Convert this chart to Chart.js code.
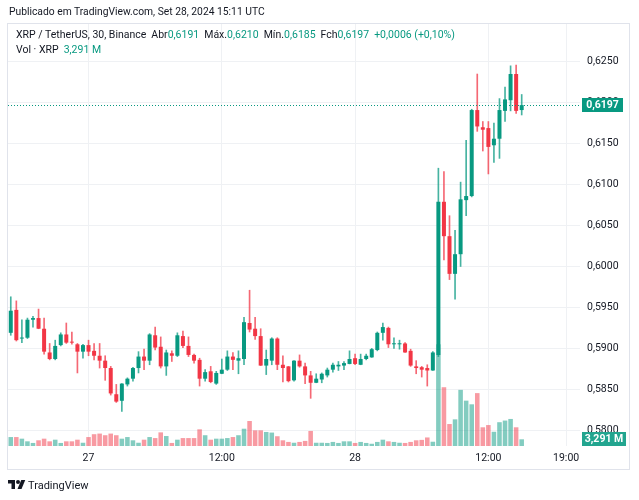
<!DOCTYPE html>
<html lang="pt">
<head>
<meta charset="UTF-8">
<title>XRP / TetherUS, 30, Binance</title>
<script src="https://cdn.jsdelivr.net/npm/chart.js"></script>
<style>
  body { margin: 0; background: #fff; font-family: Roboto, "Noto Sans", sans-serif; color: #131722; }
  #wrap { position: relative; width: 639px; height: 500px; overflow: hidden; }
  #chart { position: absolute; left: 0; top: 0; }
  .t { position: absolute; white-space: nowrap; font-size: 10.5px; line-height: 12px; }
  .up { color: #089981; }
  .lbl { margin-left: 5px; }
</style>
</head>
<body>
<div id="wrap">
  <canvas id="chart" width="639" height="500"></canvas>
  <div class="t" style="left:9px;top:6px;font-size:10.3px;">Publicado em TradingView.com, Set 28, 2024 15:11 UTC</div>
  <div class="t" style="left:16px;top:29px;">XRP / TetherUS, 30, Binance<span class="lbl">Abr</span><span class="up">0,6191</span><span class="lbl">Máx.</span><span class="up">0,6210</span><span class="lbl">Mín.</span><span class="up">0,6185</span><span class="lbl">Fch</span><span class="up">0,6197</span><span class="up lbl">+0,0006 (+0,10%)</span></div>
  <div class="t" style="left:16px;top:44px;">Vol · XRP<span class="up lbl">3,291 M</span></div>
  <svg style="position:absolute;left:8px;top:480px" width="18" height="9" viewBox="0 0 36 18">
    <path d="M14 18H7V7H0V0h14v18z" fill="#131722"/>
    <circle cx="20" cy="4" r="4" fill="#131722"/>
    <path d="M27 18h-8l7.5-18h8z" fill="#131722"/>
  </svg>
  <div class="t" style="left:28px;top:479px;font-size:11px;line-height:13px;">TradingView</div>
</div>

<script>
// candles de 30 min, 26 set 17:00 -> 28 set 15:00
var open  = [0.5919,0.5947,0.5912,0.5913,0.5935,0.5937,0.5924,0.5895,0.5887,0.5904,
             0.5917,0.5908,0.5905,0.5896,0.5904,0.5897,0.5891,0.5885,0.5876,0.5844,
             0.5836,0.5856,0.5863,0.5876,0.5890,0.5885,0.5916,0.5902,0.5878,0.5894,
             0.5891,0.5915,0.5903,0.5892,0.5886,0.5863,0.5872,0.5857,0.5869,0.5874,
             0.5890,0.5885,0.5887,0.5931,0.5924,0.5915,0.5879,0.5885,0.5912,0.5880,
             0.5878,0.5861,0.5885,0.5878,0.5867,0.5858,0.5862,0.5867,0.5874,0.5878,
             0.5879,0.5881,0.5888,0.5880,0.5887,0.5889,0.5898,0.5919,0.5925,0.5905,
             0.5905,0.5906,0.5897,0.5878,0.5877,0.5876,0.5873,0.5892,0.6079,0.6037,
             0.5991,0.6015,0.6081,0.6086,0.6191,0.6170,0.6169,0.6148,0.6156,0.6190,
             0.6203,0.6235,0.6191];
var high  = [0.5963,0.5958,0.5935,0.5937,0.5939,0.5948,0.5937,0.5906,0.5910,0.5919,
             0.5931,0.5920,0.5906,0.5905,0.5910,0.5906,0.5906,0.5891,0.5878,0.5856,
             0.5857,0.5864,0.5877,0.5896,0.5899,0.5918,0.5926,0.5914,0.5898,0.5897,
             0.5919,0.5921,0.5914,0.5893,0.5888,0.5874,0.5878,0.5872,0.5887,0.5897,
             0.5895,0.5897,0.5938,0.5971,0.5938,0.5924,0.5898,0.5913,0.5913,0.5891,
             0.5878,0.5885,0.5892,0.5882,0.5872,0.5869,0.5870,0.5876,0.5882,0.5884,
             0.5884,0.5897,0.5893,0.5893,0.5893,0.5900,0.5920,0.5931,0.5926,0.5913,
             0.5910,0.5907,0.5899,0.5885,0.5878,0.5880,0.5896,0.6120,0.6116,0.6062,
             0.6044,0.6103,0.6154,0.6192,0.6235,0.6177,0.6177,0.6175,0.6205,0.6219,
             0.6245,0.6246,0.6210];
var low   = [0.5916,0.5909,0.5907,0.5912,0.5926,0.5924,0.5893,0.5886,0.5886,0.5903,
             0.5906,0.5905,0.5870,0.5888,0.5891,0.5886,0.5876,0.5861,0.5843,0.5834,
             0.5823,0.5854,0.5860,0.5870,0.5874,0.5880,0.5898,0.5876,0.5867,0.5884,
             0.5890,0.5901,0.5890,0.5882,0.5854,0.5860,0.5858,0.5856,0.5869,0.5873,
             0.5874,0.5869,0.5880,0.5920,0.5911,0.5879,0.5868,0.5880,0.5874,0.5859,
             0.5859,0.5860,0.5877,0.5857,0.5839,0.5858,0.5858,0.5865,0.5871,0.5873,
             0.5874,0.5881,0.5880,0.5880,0.5886,0.5889,0.5897,0.5910,0.5901,0.5900,
             0.5899,0.5895,0.5878,0.5869,0.5865,0.5854,0.5873,0.5890,0.6008,0.5984,
             0.5960,0.6000,0.6062,0.6085,0.6165,0.6141,0.6113,0.6127,0.6132,0.6177,
             0.6190,0.6187,0.6185];
var close = [0.5946,0.5910,0.5913,0.5935,0.5937,0.5924,0.5896,0.5887,0.5903,0.5917,
             0.5907,0.5907,0.5896,0.5904,0.5896,0.5891,0.5885,0.5876,0.5845,0.5835,
             0.5857,0.5863,0.5876,0.5890,0.5885,0.5917,0.5901,0.5878,0.5895,0.5891,
             0.5916,0.5903,0.5892,0.5885,0.5863,0.5871,0.5859,0.5870,0.5874,0.5890,
             0.5886,0.5888,0.5932,0.5923,0.5915,0.5879,0.5887,0.5912,0.5880,0.5876,
             0.5860,0.5885,0.5878,0.5867,0.5858,0.5863,0.5869,0.5874,0.5880,0.5880,
             0.5882,0.5887,0.5881,0.5887,0.5891,0.5899,0.5919,0.5926,0.5905,0.5906,
             0.5906,0.5895,0.5879,0.5876,0.5874,0.5873,0.5895,0.6079,0.6037,0.5991,
             0.6015,0.6082,0.6086,0.6191,0.6171,0.6167,0.6146,0.6156,0.6191,0.6204,
             0.6235,0.6190,0.6197];
// volume em milhoes de XRP
var volume = [4.4,4.4,3.6,2.3,1.5,2.8,3.6,2.3,3.1,1.5,
              2.3,2.3,3.1,1.6,4.4,5.8,6.1,5.3,6.1,5.3,
              3.6,4.4,2.8,1.6,3.1,4.4,3.9,6.7,4.9,1.5,
              3.1,3.9,3.9,3.9,8.2,5.3,3.1,3.6,3.6,3.9,
              4.4,5.3,8.5,12.3,7.7,7.7,6.9,6.6,4.8,2.8,
              2.0,1.6,2.0,2.5,7.4,1.6,1.6,1.5,2.0,1.5,
              2.3,2.3,1.5,2.0,1.5,1.1,2.0,3.1,2.3,2.0,
              1.6,1.5,2.0,2.8,3.0,4.2,2.1,50,28.9,10.8,
              13.1,27.6,22.3,20.5,26.0,9.2,10.3,7.0,11.7,12.5,
              13.3,9.2,3.291];

var priceTicks = [0.5800,0.5850,0.5900,0.5950,0.6000,0.6050,0.6100,0.6150,0.6200,0.6250];
var timeTickAt = ['27 00:00','27 12:00','28 00:00','28 12:00','28 19:00'];
var timeTickText = ['27','12:00','28','12:00','19:00'];

// eixo de tempo: 26 17:00 ate 28 20:00 (espaco vazio a direita)
var categories = [];
for (var m = (26 * 24 + 17) * 60; m <= (28 * 24 + 20) * 60; m += 30) {
    var d = Math.floor(m / 1440), h = Math.floor((m % 1440) / 60), mi = m % 60;
    categories.push(d + ' ' + String(h).padStart(2, '0') + ':' + String(mi).padStart(2, '0'));
}

var GREEN = '#089981', RED = '#F23645';
var isUp = close.map(function (c, i) { return c >= open[i]; });
var bodyColors = isUp.map(function (u) { return u ? GREEN : RED; });
var wickColors = isUp.map(function (u) { return u ? 'rgba(8,153,129,0.75)' : 'rgba(242,54,69,0.75)'; });
var volColors = isUp.map(function (u) { return u ? 'rgba(8,153,129,0.5)' : 'rgba(242,54,69,0.5)'; });

function fmt(v) { return v.toFixed(4).replace('.', ','); }

var overlay = {
    id: 'overlay',
    afterDatasetsDraw: function (chart) {
        var ctx = chart.ctx, a = chart.chartArea;
        var y = Math.round(chart.scales.y.getPixelForValue(close[close.length - 1])) + 0.5;
        ctx.save();
        ctx.strokeStyle = GREEN;
        ctx.lineWidth = 1;
        ctx.setLineDash([1, 2]);
        ctx.beginPath();
        ctx.moveTo(a.left, y);
        ctx.lineTo(a.right, y);
        ctx.stroke();
        ctx.restore();
    },
    afterDraw: function (chart) {
        var ctx = chart.ctx, a = chart.chartArea, ys = chart.scales.y, yv = chart.scales.yv;
        ctx.save();
        // moldura
        ctx.strokeStyle = '#e0e3eb';
        ctx.lineWidth = 1;
        ctx.strokeRect(7.5, 23.5, 622, 446);
        // etiqueta do preco
        var last = close[close.length - 1];
        var py = ys.getPixelForValue(last);
        ctx.fillStyle = GREEN;
        ctx.fillRect(a.right + 2, Math.round(py) - 7, 41, 14);
        ctx.fillStyle = '#fff';
        ctx.font = 'bold 10.5px Roboto, sans-serif';
        ctx.textAlign = 'center';
        ctx.textBaseline = 'middle';
        ctx.fillText(fmt(last), a.right + 22.5, Math.round(py) + 0.5);
        // etiqueta do volume
        var vy = Math.min(yv.getPixelForValue(volume[volume.length - 1]), a.bottom - 7);
        ctx.fillStyle = '#22a58f';
        ctx.fillRect(a.right + 2, Math.round(vy) - 7, 44, 14);
        ctx.fillStyle = '#fff';
        ctx.fillText('3,291 M', a.right + 24, Math.round(vy) + 0.5);
        ctx.restore();
    }
};

var ctx = document.getElementById('chart').getContext('2d');
var chart = new Chart(ctx, {
    type: 'bar',
    data: {
        labels: categories,
        datasets: [{
            label: 'Corpo',
            data: open.map(function (o, i) { return [o, close[i]]; }),
            backgroundColor: bodyColors,
            barPercentage: 0.72,
            categoryPercentage: 1,
            minBarLength: 1,
            grouped: false,
            order: 1,
            yAxisID: 'y'
        }, {
            label: 'Pavio',
            data: low.map(function (l, i) { return [l, high[i]]; }),
            backgroundColor: wickColors,
            barThickness: 1,
            grouped: false,
            order: 2,
            yAxisID: 'y'
        }, {
            label: 'Volume',
            data: volume,
            backgroundColor: volColors,
            barPercentage: 0.82,
            categoryPercentage: 1,
            grouped: false,
            order: 3,
            yAxisID: 'yv'
        }]
    },
    options: {
        responsive: false,
        animation: false,
        events: [],
        layout: { padding: { left: 8, top: 23, right: 10, bottom: 31 } },
        plugins: { legend: { display: false }, tooltip: { enabled: false } },
        scales: {
            x: {
                offset: true,
                afterBuildTicks: function (scale) {
                    scale.ticks = timeTickAt.map(function (t) { return { value: categories.indexOf(t) }; });
                },
                afterFit: function (scale) { scale.height = 23; },
                ticks: {
                    autoSkip: false,
                    maxRotation: 0,
                    padding: 6,
                    color: '#131722',
                    font: { family: 'Roboto', size: 10.5 },
                    callback: function (value) {
                        return timeTickText[timeTickAt.indexOf(categories[value])];
                    }
                },
                grid: { offset: false, color: '#eff1f4', drawTicks: false },
                border: { display: false }
            },
            y: {
                position: 'right',
                min: 0.57808,
                max: 0.62973,
                afterBuildTicks: function (scale) {
                    scale.ticks = priceTicks.map(function (v) { return { value: v }; });
                },
                afterFit: function (scale) { scale.width = 49; },
                ticks: {
                    padding: 7,
                    color: '#131722',
                    font: { family: 'Roboto', size: 10.5 },
                    callback: function (v) { return fmt(v); }
                },
                grid: { color: '#eff1f4', drawTicks: false },
                border: { display: false }
            },
            yv: {
                display: false,
                min: 0,
                max: 208
            }
        }
    },
    plugins: [overlay]
});
</script>
</body>
</html>
